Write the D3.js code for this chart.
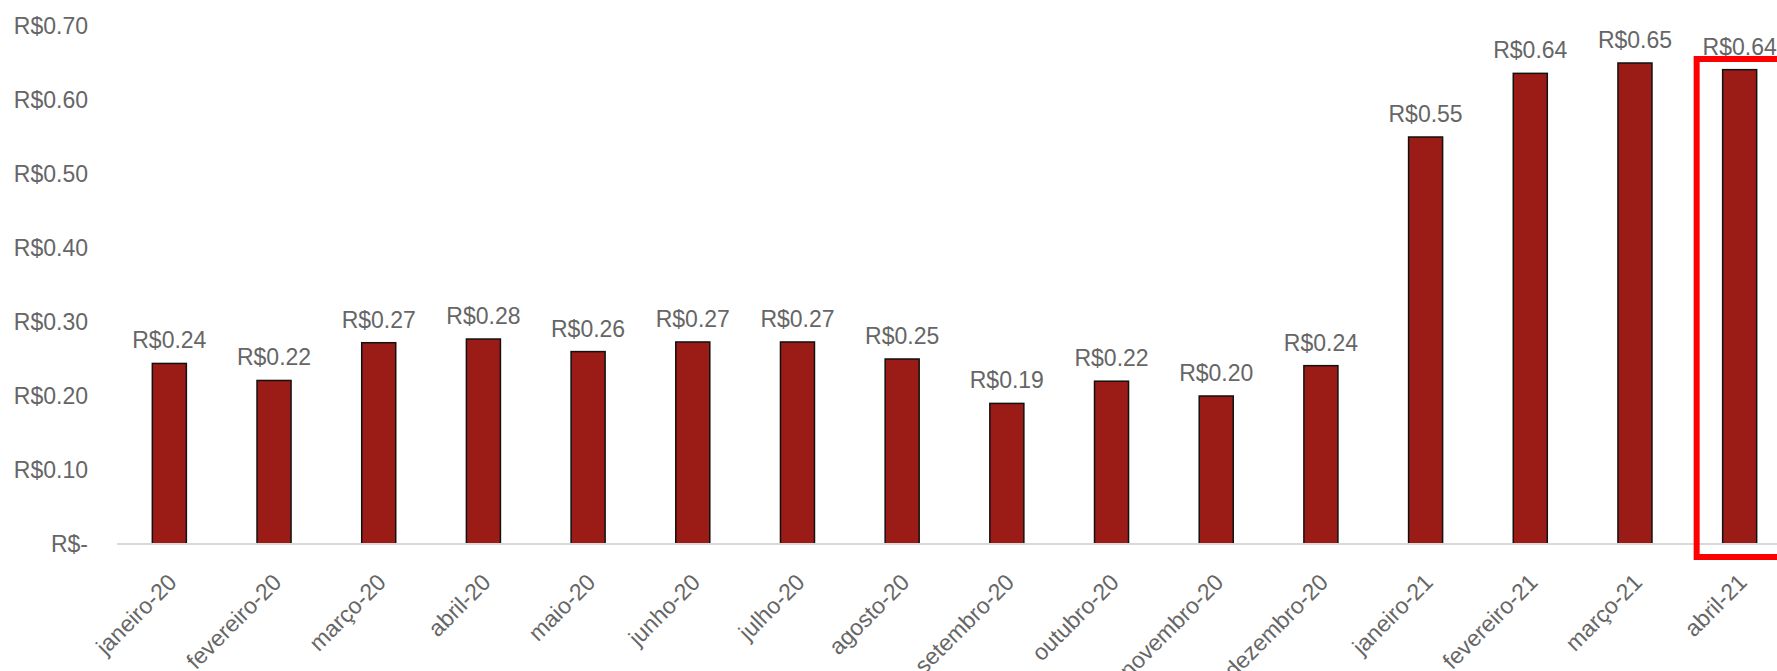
<!DOCTYPE html>
<html>
<head>
<meta charset="utf-8">
<script src="https://cdn.jsdelivr.net/npm/d3@7"></script>
<style>
  body { margin: 0; background: #fff; }
  svg text { font-family: "Liberation Sans", Arial, sans-serif; }
</style>
</head>
<body>
<div class="canvas"></div>
<script>
// data
const months = ['janeiro-20', 'fevereiro-20', 'março-20', 'abril-20', 'maio-20', 'junho-20',
  'julho-20', 'agosto-20', 'setembro-20', 'outubro-20', 'novembro-20', 'dezembro-20',
  'janeiro-21', 'fevereiro-21', 'março-21', 'abril-21'];
const values = [0.244, 0.221, 0.272, 0.277, 0.260, 0.273, 0.273, 0.250, 0.190, 0.220, 0.200, 0.241,
  0.550, 0.636, 0.650, 0.641];
const yTicks = [0, 0.1, 0.2, 0.3, 0.4, 0.5, 0.6, 0.7];

const width = 1777, height = 671;
const textColor = '#666666';

const svg = d3.select('.canvas')
  .append('svg')
  .attr('width', width)
  .attr('height', height);

const x = d3.scaleBand()
  .domain(months)
  .range([117, 1792])
  .paddingInner(0.675)
  .paddingOuter(0.3375);

const y = d3.scaleLinear()
  .domain([0, 0.7])
  .range([544, 26]);

const fmt = d => d === 0 ? 'R$-' : 'R$' + d.toFixed(2);

// y axis labels (no line, no ticks)
const yAxis = d3.axisLeft(y).tickValues(yTicks).tickFormat(fmt).tickSize(0).tickPadding(0);
const yAxisGroup = svg.append('g')
  .attr('transform', 'translate(88,0)')
  .call(yAxis);
yAxisGroup.select('.domain').remove();
yAxisGroup.selectAll('text')
  .attr('fill', textColor)
  .style('font-size', '23px');

// bars
svg.selectAll('rect.bar')
  .data(values)
  .enter()
  .append('rect')
    .attr('class', 'bar')
    .attr('x', (d, i) => x(months[i]))
    .attr('y', d => y(d))
    .attr('width', x.bandwidth())
    .attr('height', d => y(0) - y(d))
    .attr('fill', '#9b1b17')
    .attr('stroke', '#111')
    .attr('stroke-width', 1.5);

// baseline
svg.append('line')
  .attr('x1', x.range()[0])
  .attr('x2', x.range()[1])
  .attr('y1', y(0))
  .attr('y2', y(0))
  .attr('stroke', '#d9d9d9')
  .attr('stroke-width', 2);

// value labels
svg.selectAll('text.val')
  .data(values)
  .enter()
  .append('text')
    .attr('class', 'val')
    .attr('x', (d, i) => x(months[i]) + x.bandwidth() / 2)
    .attr('y', d => y(d) - 15)
    .attr('text-anchor', 'middle')
    .attr('fill', textColor)
    .style('font-size', '23px')
    .text(d => fmt(Math.round(d * 100) / 100));

// x axis labels, rotated
const xAxis = d3.axisBottom(x).tickSize(0).tickPadding(0);
const xAxisGroup = svg.append('g')
  .attr('transform', `translate(0, ${y(0)})`)
  .call(xAxis);
xAxisGroup.select('.domain').remove();
xAxisGroup.selectAll('text')
  .attr('fill', textColor)
  .style('font-size', '23px')
  .attr('text-anchor', 'end')
  .attr('dy', '0.35em')
  .attr('transform', 'translate(3, 34) rotate(-45)');

// red highlight box around last month
const last = months[months.length - 1];
svg.append('rect')
  .attr('x', x(last) - 26)
  .attr('y', y(0.7) + 33)
  .attr('width', 200)
  .attr('height', y(0) + 13 - (y(0.7) + 33))
  .attr('fill', 'none')
  .attr('stroke', '#ff0000')
  .attr('stroke-width', 6);
</script>
</body>
</html>
